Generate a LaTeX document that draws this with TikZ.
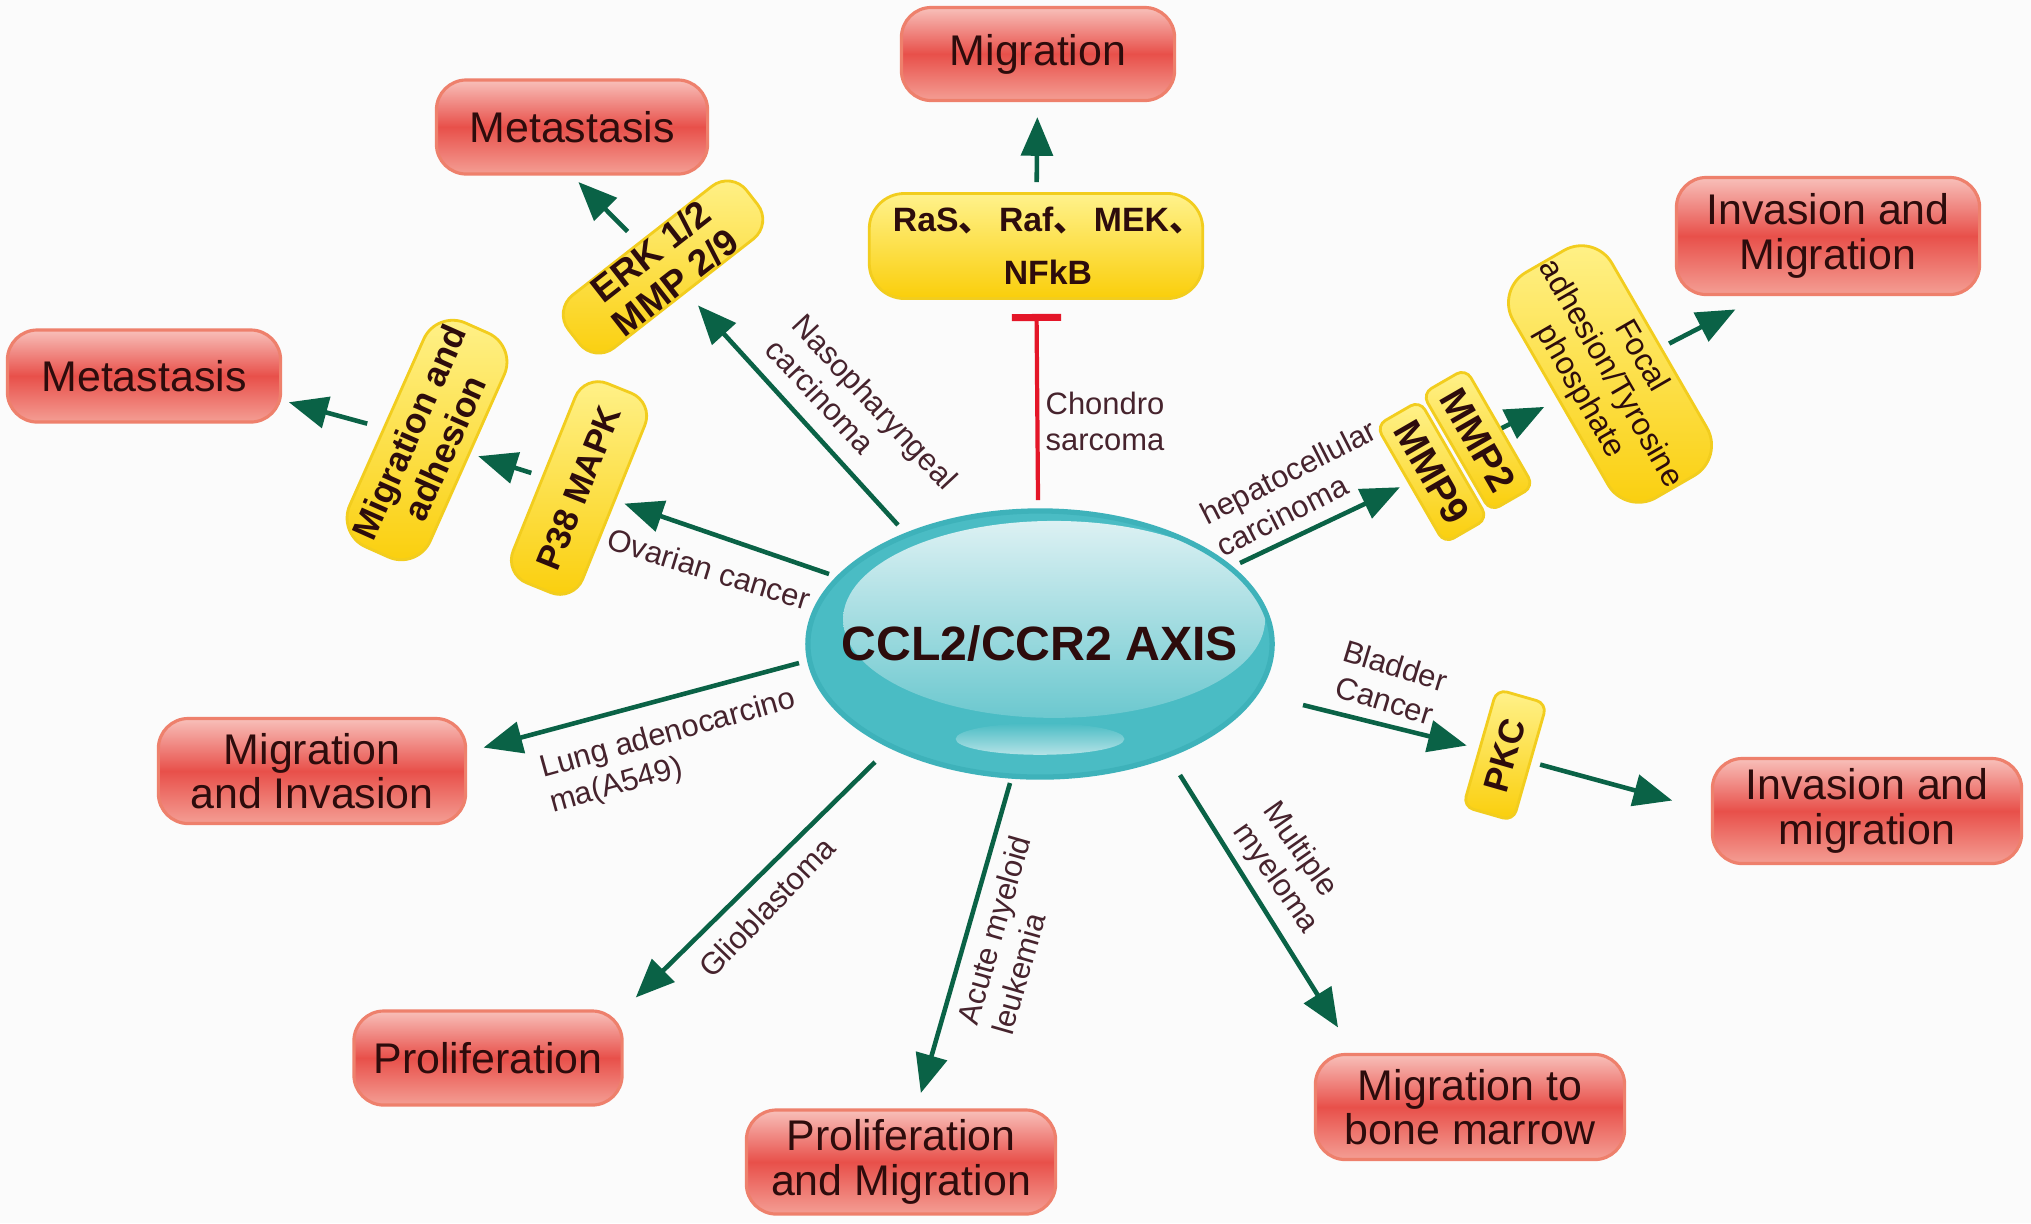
\documentclass[tikz,border=0pt]{standalone}
\usepackage{fontspec}
\setmainfont{Liberation Sans}
\newfontfamily\cjk{Noto Sans CJK SC}
\usetikzlibrary{arrows.meta,shapes.geometric,calc}

\definecolor{bgcol}{RGB}{251,251,251}
\definecolor{axteal}{RGB}{74,188,196}
\definecolor{axdark}{RGB}{62,178,186}
\definecolor{axlight}{RGB}{226,243,245}
\definecolor{redtop}{RGB}{248,192,186}
\definecolor{redmid}{RGB}{232,80,74}
\definecolor{redbot}{RGB}{244,158,148}
\definecolor{redline}{RGB}{238,128,108}
\definecolor{ylight}{RGB}{255,242,140}
\definecolor{ygold}{RGB}{250,206,10}
\definecolor{yline}{RGB}{242,205,30}
\definecolor{arrgreen}{RGB}{10,98,70}
\definecolor{inhred}{RGB}{228,22,40}
\definecolor{txtdark}{RGB}{45,12,12}
\definecolor{lbl}{RGB}{70,35,45}

\tikzset{
  effect/.style={rounded corners=8.5pt, draw=redline, line width=0.9pt,
    top color=redtop, bottom color=redbot, middle color=redmid,
    text=txtdark, inner sep=0pt, align=center,
    font=\fontsize{12.2}{12.6}\selectfont},
  factor/.style={rounded corners=7pt, draw=yline, line width=0.8pt,
    top color=ylight, bottom color=ygold, text=txtdark, inner sep=0pt,
    align=center, font=\bfseries\fontsize{10}{11}\selectfont},
  cancer/.style={text=lbl, inner sep=0pt, font=\fontsize{8.8}{10.2}\selectfont},
  arr/.style={draw=arrgreen, line width=1.3pt, -{Triangle[length=11pt,width=9pt]}},
  inh/.style={draw=inhred, line width=1.2pt, -{Bar[width=14pt,line width=2pt]}}
}

\begin{document}
\begin{tikzpicture}[x=0.01cm, y=-0.01cm]
\fill[bgcol] (0,0) rectangle (2031,1223);
\useasboundingbox (0,0) rectangle (2031,1223);

% the axis
\node[ellipse, minimum width=4.64cm, minimum height=2.66cm, fill=axteal,
  draw=axdark, line width=1.5pt, inner xsep=-12pt, inner ysep=0pt, text=txtdark,
  font=\bfseries\fontsize{13.7}{14}\selectfont,
  path picture={
    \shade[top color=axlight, bottom color=axteal]
      ([xshift=4pt,yshift=7pt]path picture bounding box.center) ellipse (60pt and 28pt);
    \shade[top color=axteal, bottom color=axlight!70!axteal]
      ([yshift=-27pt]path picture bounding box.center) ellipse (24pt and 4.5pt);
  }] (axis) at (1040,644) {CCL2/CCR2 AXIS};

% outcomes
\node[effect, minimum width=2.73cm, minimum height=0.93cm] (mig) at (1038,54) {Migration};
\node[effect, minimum width=2.71cm, minimum height=0.94cm] (meta1) at (572,127) {Metastasis};
\node[effect, minimum width=2.73cm, minimum height=0.92cm] (meta2) at (144,376) {Metastasis};
\node[effect, minimum width=3.03cm, minimum height=1.17cm] (invmig1) at (1828,236) {Invasion and\\Migration};
\node[effect, minimum width=3.07cm, minimum height=1.05cm] (miginv) at (312,771) {Migration\\and Invasion};
\node[effect, minimum width=2.68cm, minimum height=0.94cm] (prolif) at (488,1058) {Proliferation};
\node[effect, minimum width=3.09cm, minimum height=1.04cm] (prolmig) at (901,1162) {Proliferation\\and Migration};
\node[effect, minimum width=3.09cm, minimum height=1.05cm] (bone) at (1470,1107) {Migration to\\bone marrow};
\node[effect, minimum width=3.09cm, minimum height=1.05cm] (invmig2) at (1867,811) {Invasion and\\migration};

% mediators
\node[factor, rounded corners=10pt, minimum width=3.32cm, minimum height=1.05cm,
  font=\bfseries\fontsize{9.6}{15.2}\selectfont] (ras) at (1036,246)
  {\hspace*{.7em}RaS{\cjk 、}\hspace{.2em}Raf{\cjk 、}\hspace{.2em}MEK{\cjk 、}\\\hspace*{.7em}NFkB};
\node[factor, rotate=38, minimum width=2.26cm, minimum height=0.67cm,
  font=\bfseries\fontsize{10.5}{11.2}\selectfont] (erk) at (663,267) {ERK 1/2\\MMP 2/9};
\node[factor, rotate=66, rounded corners=9pt, minimum width=2.45cm, minimum height=0.88cm] (adh) at (427,440) {Migration and\\adhesion};
\node[factor, rotate=68, minimum width=2.15cm, minimum height=0.75cm,
  font=\bfseries\fontsize{9.8}{11}\selectfont] (p38) at (579,488) {P38 MAPK};
\node[factor, rotate=-60, rounded corners=3pt, minimum width=1.36cm, minimum height=0.5cm,
  font=\bfseries\fontsize{11}{12}\selectfont] (mmp9) at (1432,472) {MMP9};
\node[factor, rotate=-60, rounded corners=3pt, minimum width=1.36cm, minimum height=0.5cm,
  font=\bfseries\fontsize{11}{12}\selectfont] (mmp2) at (1478,440) {MMP2};
\node[factor, rotate=-60, rounded corners=10pt, minimum width=2.6cm, minimum height=1.14cm,
  font=\fontsize{9}{10}\selectfont] (focal) at (1610,374) {Focal\\adhesion/Tyrosine\\phosphate};
\node[factor, rotate=74, rounded corners=3pt, minimum width=1.22cm, minimum height=0.52cm] (pkc) at (1505,755) {PKC};

% free ends near the axis
\coordinate (s-naso) at (898,525);
\coordinate (s-ov) at (829,574);
\coordinate (s-lung) at (799,663);
\coordinate (s-glio) at (875,762);
\coordinate (s-aml) at (1010,783);
\coordinate (s-mm) at (1180,775);
\coordinate (s-blad) at (1303,705);
\coordinate (s-hcc) at (1240,563);
\coordinate (s-chon) at (1038,500);

\draw[arr, shorten <=0.10cm, shorten >=0.15cm] (ras) -- (mig);
\draw[inh, shorten >=0.14cm] (s-chon) -- (ras);
\draw[arr, shorten >=0.17cm] (s-naso) -- (erk);
\draw[arr, shorten <=0.15cm, shorten >=0.09cm] (erk) -- (meta1.south);
\draw[arr, shorten >=0.09cm] (s-ov) -- (p38);
\draw[arr, shorten <=0.11cm, shorten >=0.08cm] (p38) -- (adh);
\draw[arr, shorten <=0.16cm, shorten >=0.07cm] (adh) -- (meta2.-10);
\draw[arr, shorten >=0.17cm] (s-lung) -- (miginv.7);
\draw[arr, shorten >=0.17cm] (s-glio) -- (prolif.north east);
\draw[arr, shorten >=0.16cm] (s-aml) -- (prolmig);
\draw[arr, shorten >=0.30cm] (s-mm) -- (bone.155);
\draw[arr, shorten >=0.12cm] (s-blad) -- (pkc);
\draw[arr, shorten <=0.09cm, shorten >=0.40cm] (pkc) -- (invmig2.west);
\draw[arr, shorten >=0.09cm] (s-hcc) -- (mmp9);
\draw[arr, shorten >=0.15cm] (mmp2) -- (focal);
\draw[arr, shorten <=0.08cm, shorten >=0.29cm] (focal) -- (invmig1.-138);

% cancer types
\node[cancer, rotate=-47, align=left] (l-naso) at (862,414) {Nasopharyngeal\\carcinoma};
\node[cancer, rotate=-17] (l-ov) at (709,569) {Ovarian cancer};
\node[cancer, rotate=15.5, align=left] (l-lung) at (673,752) {Lung adenocarcino\\ma(A549)};
\node[cancer, rotate=46] (l-glio) at (767,907) {Glioblastoma};
\node[cancer, rotate=74, align=left] (l-aml) at (1011,935) {Acute myeloid\\leukemia};
\node[cancer, rotate=-55, align=left] (l-mm) at (1290,868) {Multiple\\myeloma};
\node[cancer, rotate=-17, align=center] (l-blad) at (1390,683) {Bladder\\Cancer};
\node[cancer, rotate=27, align=left] (l-hcc) at (1296,488) {hepatocellular\\carcinoma};
\node[cancer, align=left] (l-chon) at (1105,421) {Chondro\\sarcoma};
\end{tikzpicture}
\end{document}
